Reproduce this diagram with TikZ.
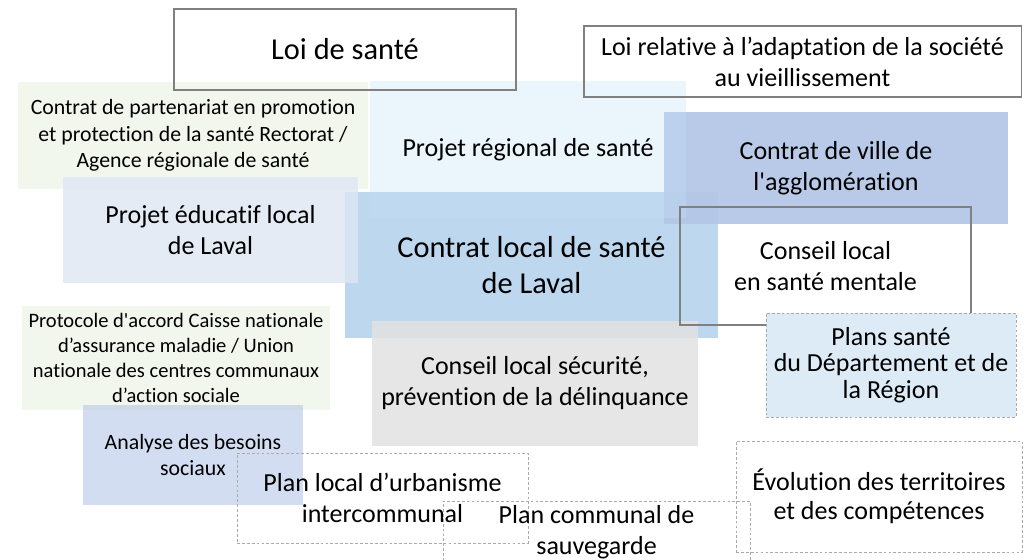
\documentclass[tikz,border=0pt]{standalone}
\usepackage{fontspec}
\setmainfont{Carlito}[Ligatures={TeXOff,NoCommon}]
\usepackage{tikz}
\definecolor{softgreen}{RGB}{242,247,238}
\definecolor{paleblue}{RGB}{195,226,246}
\definecolor{edublue}{RGB}{222,230,243}
\definecolor{cityblue}{RGB}{180,199,231}
\definecolor{localblue}{RGB}{189,215,238}
\definecolor{planblue}{RGB}{221,235,247}
\definecolor{safegray}{RGB}{227,226,226}
\tikzstyle{box} = [rectangle, inner sep=0pt, align=center, text opacity=1]
\tikzstyle{frame} = [box, draw={rgb,255:red,128;green,128;blue,128}, line width=0.8pt]
\tikzstyle{dashframe} = [box, draw={rgb,255:red,170;green,170;blue,170}, line width=0.6pt, dash pattern=on 2pt off 1.5pt]
\tikzstyle{big} = [font=\fontsize{21.6pt}{25.6pt}\selectfont]
\tikzstyle{mid} = [font=\fontsize{18.5pt}{22pt}\selectfont]
\tikzstyle{small} = [font=\fontsize{15.5pt}{18.9pt}\selectfont]
\tikzstyle{tiny} = [font=\fontsize{14.6pt}{17.6pt}\selectfont]

\begin{document}
\begin{tikzpicture}[x=0.025cm, y=-0.025cm]
	\useasboundingbox (0,0) rectangle (1025,559);

	% filled blocks
	\node (partenariat) [box, small, fill=softgreen, minimum width=8.75cm, minimum height=2.675cm] at (193,135.5) {Contrat de partenariat en promotion\\ et protection de la santé Rectorat /\\ Agence régionale de santé};
	\node (cls) [box, big, fill=localblue, minimum width=9.325cm, minimum height=3.65cm] at (531.5,265) {Contrat local de santé\\ de Laval};
	\node (ville) [box, mid, fill=cityblue, fill opacity=0.95, minimum width=8.6cm, minimum height=2.8cm] at (836,168) {Contrat de ville de\\ l'agglomération};
	\node (pedt) [box, mid, fill=edublue, fill opacity=0.8, minimum width=7.375cm, minimum height=2.65cm] at (210.5,230) {Projet éducatif local\\ de Laval};
	\node (prs) [box, mid, fill=paleblue, fill opacity=0.35, minimum width=7.9cm, minimum height=3.425cm] at (528,149.5) {Projet régional de santé};
	\node (clspd) [box, mid, fill=safegray, fill opacity=0.85, minimum width=8.15cm, minimum height=3.125cm] at (535,383.5) {Conseil local sécurité,\\ prévention de la délinquance};
	\node (protocole) [box, tiny, fill=softgreen, minimum width=7.7cm, minimum height=2.6cm] at (176,358) {Protocole d'accord Caisse nationale\\ d’assurance maladie / Union\\ nationale des centres communaux\\ d’action sociale};
	\node (besoins) [box, small, fill=cityblue, fill opacity=0.6, minimum width=5.5cm, minimum height=2.5cm] at (193,455) {Analyse des besoins\\ sociaux};

	% framed blocks
	\node (clsm) [frame, mid, minimum width=7.275cm, minimum height=2.95cm] at (825.5,266) {Conseil local\\ en santé mentale};
	\node (plans) [dashframe, mid, fill=planblue, minimum width=6.25cm, minimum height=2.6cm, font=\fontsize{18.5pt}{19pt}\selectfont] at (891,365) {Plans santé\\ du Département et de\\ la Région};
	\node (plui) [dashframe, mid, minimum width=7.275cm, minimum height=2.25cm] at (382.5,498) {Plan local d’urbanisme\\ intercommunal};
	\node (pcs) [dashframe, mid, minimum width=7.675cm, minimum height=1.55cm] at (596.5,532) {Plan communal de\\ sauvegarde};
	\node (evol) [dashframe, mid, minimum width=7.15cm, minimum height=2.775cm, font=\fontsize{18.5pt}{20.6pt}\selectfont] at (879,496.5) {Évolution des territoires\\ et des compétences};
	\node (loi) [frame, big, minimum width=8.55cm, minimum height=2.025cm] at (345,49.5) {Loi de santé};
	\node (loiage) [frame, mid, minimum width=10.925cm, minimum height=1.775cm] at (802.5,61.5) {Loi relative à l’adaptation de la société\\ au vieillissement};
\end{tikzpicture}
\end{document}
